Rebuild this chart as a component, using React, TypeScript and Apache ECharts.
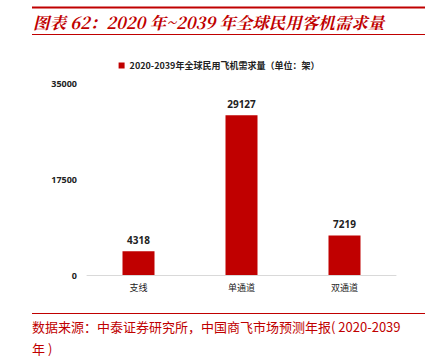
import React, { useEffect, useRef } from "react";
import * as echarts from "echarts";

const categories = ["支线", "单通道", "双通道"];
const demand = [4318, 29127, 7219];
const yTicks = [0, 17500, 35000];
const seriesName = "2020-2039年全球民用飞机需求量（单位：架）";
const titleText = "图表 62：2020 年~2039 年全球民用客机需求量";
const sourceLine1 = "数据来源：中泰证券研究所，中国商飞市场预测年报( 2020-2039";
const sourceLine2 = "年 )";

const RED = "#C00000";

export default function App() {
  const ref = useRef<HTMLDivElement>(null);
  useEffect(() => {
    const chart = echarts.init(ref.current!, null, { renderer: "svg" });
    chart.setOption({
      animation: false,
      grid: { left: 87, right: 42, top: 83, bottom: 81 },
      legend: {
        top: 56,
        left: "center",
        itemWidth: 6,
        itemHeight: 6,
        itemGap: 4,
        icon: "rect",
        textStyle: { fontSize: 9, fontWeight: "bold", color: "#222", fontFamily: "Noto Sans CJK SC" },
        data: [seriesName],
      },
      xAxis: {
        type: "category",
        data: categories,
        axisLine: { lineStyle: { color: "#d9d9d9" } },
        axisTick: { show: false },
        axisLabel: { fontSize: 9, color: "#222", margin: 8, fontFamily: "Noto Sans CJK SC" },
      },
      yAxis: {
        type: "value",
        min: yTicks[0],
        max: yTicks[yTicks.length - 1],
        interval: yTicks[1] - yTicks[0],
        splitLine: { show: false },
        axisLine: { show: false },
        axisTick: { show: false },
        axisLabel: {
          fontSize: 9,
          fontWeight: "bold",
          color: "#222",
          margin: 10,
          fontFamily: "Noto Sans",
          formatter: (v: number) => String(v),
        },
      },
      series: [
        {
          name: seriesName,
          type: "bar",
          data: demand,
          barWidth: 32,
          itemStyle: { color: RED },
          label: {
            show: true,
            position: "top",
            distance: 6,
            fontSize: 10,
            fontWeight: "bold",
            color: "#222",
            fontFamily: "Noto Sans",
          },
        },
      ],
      graphic: [
        { type: "line", shape: { x1: 32, y1: 7.5, x2: 425, y2: 7.5 }, style: { stroke: RED, lineWidth: 2 } },
        {
          type: "text",
          x: 33,
          y: 22,
          style: {
            text: titleText,
            font: "italic bold 16.5px 'Noto Serif CJK SC', 'Noto Sans CJK SC', serif",
            fill: RED,
            textVerticalAlign: "middle",
          },
        },
        { type: "line", shape: { x1: 32, y1: 34.5, x2: 425, y2: 34.5 }, style: { stroke: RED, lineWidth: 1 } },
        { type: "line", shape: { x1: 32, y1: 313.5, x2: 425, y2: 313.5 }, style: { stroke: RED, lineWidth: 1 } },
        {
          type: "text",
          x: 32,
          y: 326,
          style: {
            text: sourceLine1,
            font: "13px 'Noto Sans CJK SC', sans-serif",
            fill: RED,
            textVerticalAlign: "middle",
          },
        },
        {
          type: "text",
          x: 32,
          y: 348,
          style: {
            text: sourceLine2,
            font: "13px 'Noto Sans CJK SC', sans-serif",
            fill: RED,
            textVerticalAlign: "middle",
          },
        },
      ],
    });
    return () => chart.dispose();
  }, []);
  return <div ref={ref} style={{ width: 438, height: 356, position: "fixed", left: 0, top: 0, background: "#fff" }} />;
}
